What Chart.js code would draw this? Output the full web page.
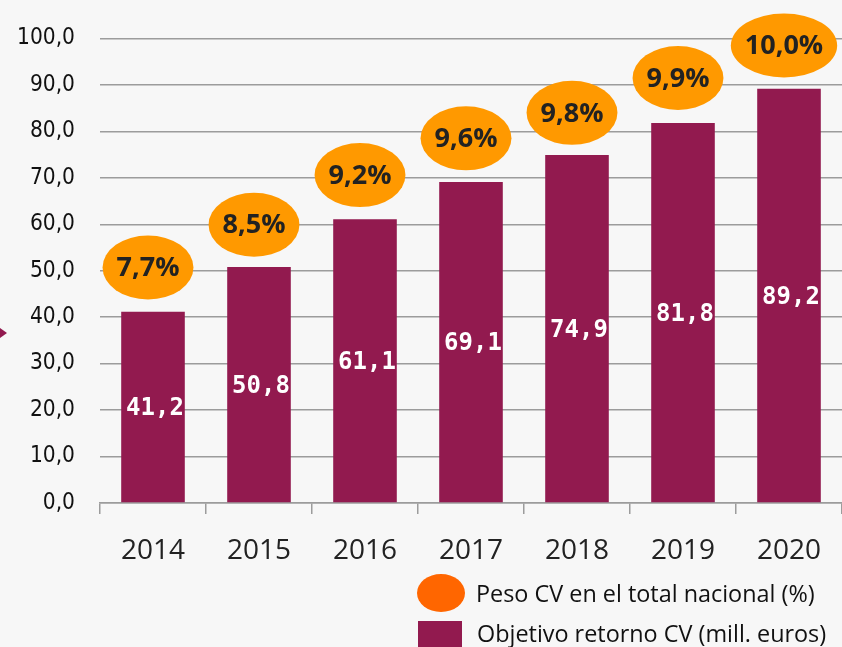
<!DOCTYPE html>
<html>
<head>
<meta charset="utf-8">
<script src="https://cdn.jsdelivr.net/npm/chart.js@4.4.1/dist/chart.umd.min.js"></script>
<style>
  html, body { margin: 0; padding: 0; background: #f7f7f7; }
  #wrap { width: 842px; height: 647px; position: relative; }
</style>
</head>
<body>
<div id="wrap"><canvas id="c" width="842" height="647"></canvas></div>
<script>
// ---- data ----
const categories = ['2014', '2015', '2016', '2017', '2018', '2019', '2020'];
const retornoCV = [41.2, 50.8, 61.1, 69.1, 74.9, 81.8, 89.2];        // mill. euros
const pesoCV = [7.7, 8.5, 9.2, 9.6, 9.8, 9.9, 10.0];                  // % of national total
const pesoBadgeLevel = [50.7, 59.9, 70.6, 78.5, 84.0, 91.5, 98.5];   // where the % badges sit (left-axis units)
const yTickValues = [0, 10, 20, 30, 40, 50, 60, 70, 80, 90, 100];
const legendLabels = ['Peso CV en el total nacional (%)', 'Objetivo retorno CV (mill. euros)'];

const BAR = '#921a4f';
const BADGE = '#ff9900';
const LEGEND_DOT = '#ff6600';
const fmt1 = v => v.toFixed(1).replace('.', ',');

const overlay = {
  id: 'overlay',
  afterDatasetsDraw(chart) {
    const ctx = chart.ctx;
    const meta = chart.getDatasetMeta(0);
    const y = chart.scales.y;
    ctx.save();
    // values inside bars
    ctx.font = 'bold 24px "DejaVu Sans Mono", monospace';
    ctx.fillStyle = '#ffffff';
    ctx.textAlign = 'center';
    ctx.textBaseline = 'middle';
    meta.data.forEach((bar, i) => {
      ctx.fillText(fmt1(retornoCV[i]), bar.x + 2, (bar.y + bar.base) / 2 + 2);
    });
    // percentage badges
    ctx.font = 'bold 27px "Open Sans", sans-serif';
    meta.data.forEach((bar, i) => {
      const txt = fmt1(pesoCV[i]) + '%';
      const w = ctx.measureText(txt).width;
      const cx = bar.x - 5;
      const cy = y.getPixelForValue(pesoBadgeLevel[i]);
      ctx.fillStyle = BADGE;
      ctx.beginPath();
      ctx.ellipse(cx, cy, w / 2 + 14, 32, 0, 0, Math.PI * 2);
      ctx.fill();
      ctx.fillStyle = '#222222';
      ctx.fillText(txt, cx, cy + 1);
    });
    ctx.restore();
  },
  afterDraw(chart) {
    const ctx = chart.ctx;
    ctx.save();
    // small marker at left edge
    ctx.fillStyle = BAR;
    ctx.beginPath();
    ctx.moveTo(0, 328); ctx.lineTo(7, 333); ctx.lineTo(0, 338); ctx.closePath();
    ctx.fill();
    // legend
    ctx.fillStyle = LEGEND_DOT;
    ctx.beginPath();
    ctx.ellipse(441, 593, 24, 19, 0, 0, Math.PI * 2);
    ctx.fill();
    ctx.fillStyle = BAR;
    ctx.fillRect(418, 621, 44, 44);
    ctx.fillStyle = '#111111';
    ctx.font = '23.4px "Open Sans", sans-serif';
    ctx.textAlign = 'left';
    ctx.textBaseline = 'middle';
    ctx.fillText(legendLabels[0], 476, 595);
    ctx.fillText(legendLabels[1], 477, 635);
    ctx.restore();
  }
};

new Chart(document.getElementById('c'), {
  type: 'bar',
  data: {
    labels: categories,
    datasets: [{
      label: legendLabels[1],
      data: retornoCV,
      backgroundColor: BAR,
      borderWidth: 0,
      barPercentage: 0.6,
      categoryPercentage: 1.0
    }]
  },
  options: {
    responsive: true,
    maintainAspectRatio: false,
    devicePixelRatio: 1,
    animation: false,
    events: [],
    layout: { padding: { top: 34, right: 0, left: 0, bottom: 0 } },
    plugins: { legend: { display: false }, tooltip: { enabled: false } },
    scales: {
      y: {
        min: 0, max: 100,
        afterBuildTicks: s => { s.ticks = yTickValues.map(v => ({ value: v })); },
        afterFit: s => { s.width = 100; },
        ticks: {
          callback: v => fmt1(v),
          font: { family: '"DejaVu Sans Condensed", "DejaVu Sans", sans-serif', size: 22.5 },
          color: '#111111',
          padding: 25
        },
        grid: { color: '#9c9c9c', lineWidth: 1.5, drawTicks: false },
        border: { display: false }
      },
      x: {
        afterFit: s => { s.height = 144; },
        grid: { offset: true, drawOnChartArea: false, drawTicks: true, tickLength: 11, color: '#9c9c9c', lineWidth: 1.5 },
        border: { display: true, color: '#9c9c9c', width: 1.5 },
        ticks: {
          font: { family: '"Open Sans", sans-serif', size: 28 },
          color: '#222222',
          padding: 20
        }
      }
    }
  },
  plugins: [overlay]
});
</script>
</body>
</html>
